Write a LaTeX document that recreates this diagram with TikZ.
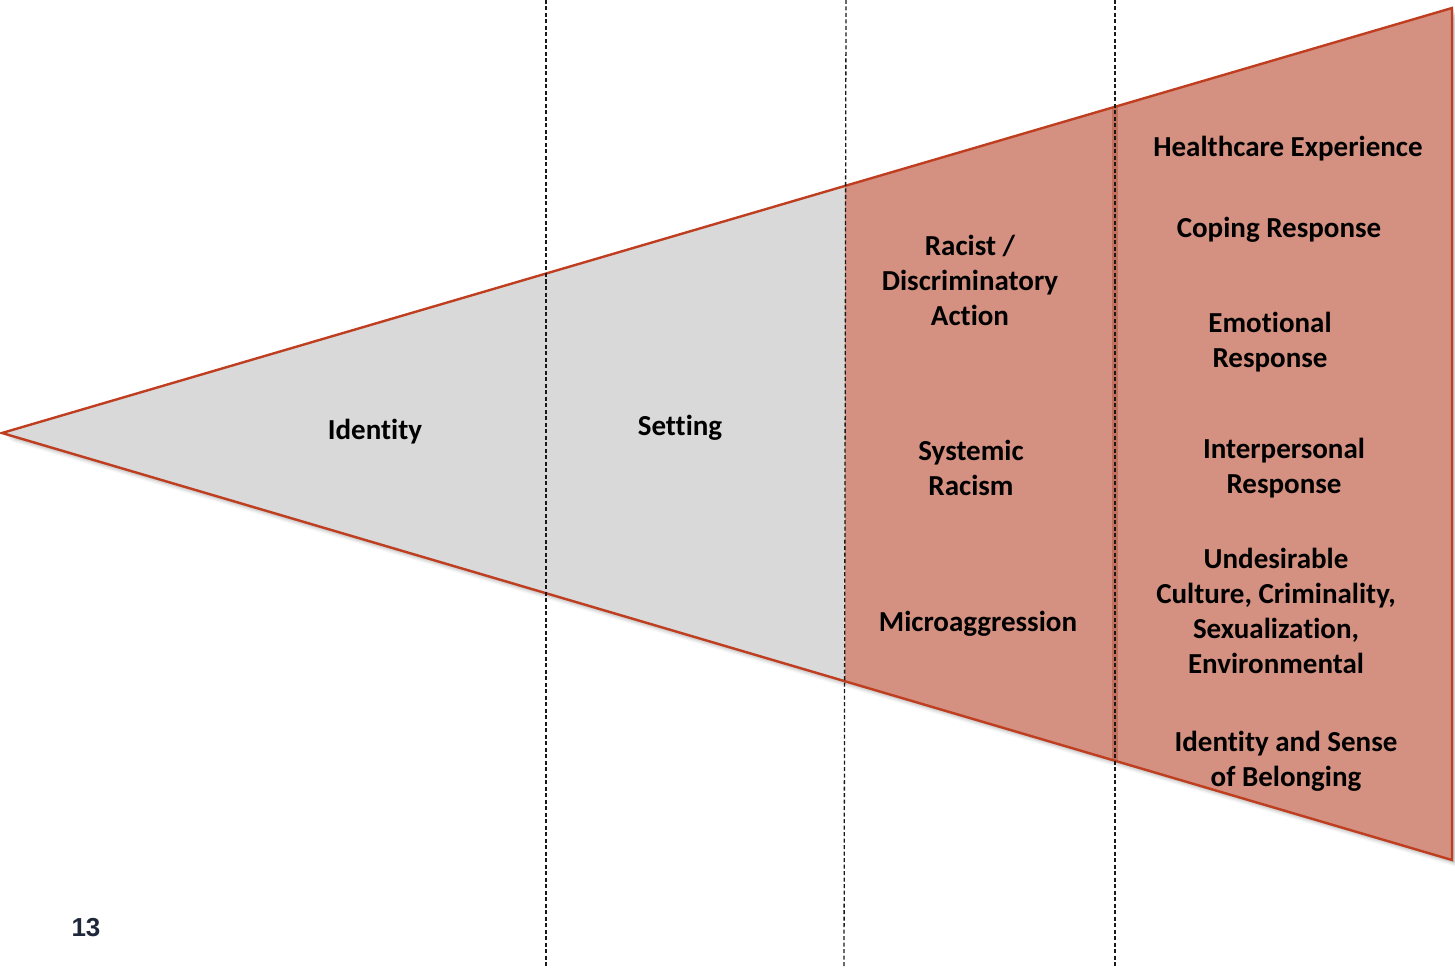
\documentclass[tikz,border=0pt]{standalone}
\usepackage{fontspec}
\setmainfont{Carlito}[Ligatures={NoCommon}]
\newfontfamily\numfont{Liberation Sans}
\definecolor{outlinered}{RGB}{192,62,32}
\definecolor{salmon}{RGB}{212,144,128}
\definecolor{salmondark}{RGB}{196,112,94}
\definecolor{lightgrey}{RGB}{217,217,217}
\definecolor{navy}{RGB}{30,40,58}
\begin{document}
\begin{tikzpicture}[x=1pt,y=-1pt,
  lbl/.style={font=\bfseries\fontsize{29}{35}\selectfont, align=center, text=black, inner sep=0pt, yshift=-3pt},
  sep/.style={draw=black!90, line width=1.3pt, dash pattern=on 4pt off 2.5pt},
  edge/.style={draw=outlinered, line width=2.4pt, line join=miter}]
\useasboundingbox (0,0) rectangle (1455,968);
\coordinate (apex) at (2,433);
\coordinate (tr) at (1452,8);
\coordinate (br) at (1452,860);
% soft shadow
\foreach \d/\o in {8/0.04,6/0.06,4/0.08,2/0.1}{
  \fill[black, opacity=\o] ([shift={(\d,\d)}]apex) -- ([shift={(\d,\d)}]tr) -- ([shift={(\d,\d)}]br) -- cycle;
}
% fills
\begin{scope}
  \clip (apex) -- (tr) -- (br) -- cycle;
  \fill[lightgrey] (0,0) rectangle (845,968);
  \fill[salmon] (845,0) rectangle (1455,968);
  \fill[salmondark] (1112,0) rectangle (1118,968);
\end{scope}
% outline
\draw[edge] (apex) -- (tr) -- (br) -- cycle;
% dashed separators
\coordinate (s1t) at (546,0); \coordinate (s1b) at (546,968);
\coordinate (s2t) at (846,0); \coordinate (s2b) at (844,968);
\coordinate (s3t) at (1115,0); \coordinate (s3b) at (1115,968);
\draw[sep] (s1t) -- (s1b);
\draw[sep] (s2t) -- (s2b);
\draw[sep] (s3t) -- (s3b);
% labels
\node[lbl] (identity) at (375,429) {Identity};
\node[lbl] (setting) at (680,425) {Setting};
\node[lbl] (racist) at (970,277) {Racist /\\Discriminatory\\Action};
\node[lbl] (systemic) at (971,465) {Systemic\\Racism};
\node[lbl] (micro) at (978,621) {Microaggression};
\node[lbl] (health) at (1288,146) {Healthcare Experience};
\node[lbl] (coping) at (1279,227) {Coping Response};
\node[lbl] (emotional) at (1270,339) {Emotional\\Response};
\node[lbl] (interp) at (1284,465) {Interpersonal\\Response};
\node[lbl] (undes) at (1276,608) {Undesirable\\Culture, Criminality,\\Sexualization,\\Environmental};
\node[lbl] (belong) at (1286,758) {Identity and Sense\\of Belonging};
\node[font=\numfont\bfseries\fontsize{26}{30}\selectfont, text=navy, inner sep=0pt] (page) at (86,928) {13};
\end{tikzpicture}
\end{document}
